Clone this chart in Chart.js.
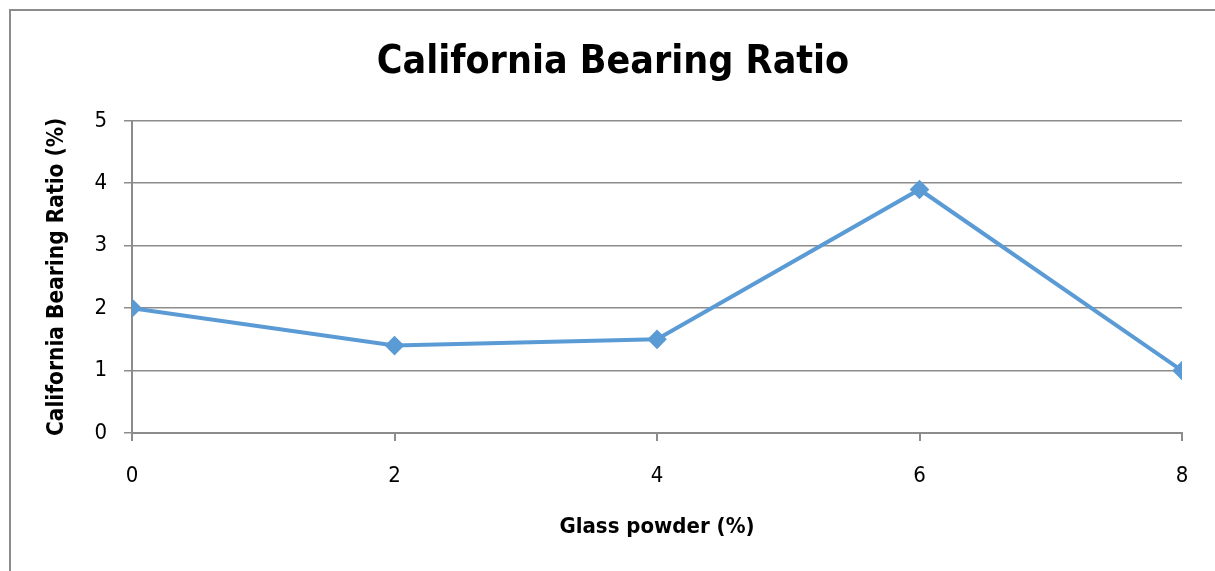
<!DOCTYPE html>
<html>
<head>
<meta charset="utf-8">
<script src="https://cdn.jsdelivr.net/npm/chart.js@4.4.1/dist/chart.umd.min.js"></script>
<style>
  html, body { margin: 0; padding: 0; background: #fff; overflow: hidden; }
  #frame { position: absolute; left: 9px; top: 9px; width: 1400px; height: 800px; border: 2px solid #8c8c8c; }
  #wrap { position: absolute; left: 0; top: 0; width: 1215px; height: 571px; }
</style>
</head>
<body>
<div id="frame"></div>
<div id="wrap"><canvas id="cbr"></canvas></div>
<script>
// Glass powder content (%) vs CBR (%)
const glassPowder = [0, 2, 4, 6, 8];
const cbrValues = [2.0, 1.4, 1.5, 3.9, 1.0];
const yTicks = [0, 1, 2, 3, 4, 5];

const narrow = "'DejaVu Sans Condensed', 'Liberation Sans Narrow', 'Arial Narrow', sans-serif";
const grey = "#8c8c8c";

new Chart(document.getElementById("cbr"), {
  type: "line",
  data: {
    datasets: [{
      label: "CBR",
      data: glassPowder.map((x, i) => ({ x: x, y: cbrValues[i] })),
      borderColor: "#5b9bd5",
      backgroundColor: "#5b9bd5",
      borderWidth: 4,
      pointStyle: "rectRot",
      pointRadius: 7,
      pointHoverRadius: 7,
      tension: 0
    }]
  },
  options: {
    responsive: true,
    maintainAspectRatio: false,
    animation: false,
    layout: { padding: { left: 11, right: 0, top: 0, bottom: 0 } },
    plugins: {
      legend: { display: false },
      tooltip: { enabled: false },
      title: {
        display: true,
        text: "California Bearing Ratio",
        color: "#000",
        font: { family: narrow, size: 39, weight: "bold", lineHeight: 1.2 },
        padding: { top: 39, bottom: 35 }
      }
    },
    scales: {
      x: {
        type: "linear",
        min: 0,
        max: 8,
        afterBuildTicks: axis => { axis.ticks = glassPowder.map(v => ({ value: v })); },
        afterFit: axis => { axis.height = 138; },
        grid: { display: true, drawOnChartArea: false, drawTicks: true, tickLength: 8, color: grey, lineWidth: 2 },
        border: { display: true, color: grey, width: 2 },
        ticks: { color: "#000", padding: 22, font: { family: narrow, size: 22 } },
        title: {
          display: true,
          text: "Glass powder (%)",
          color: "#000",
          font: { family: narrow, size: 22, weight: "bold", lineHeight: 1.2 },
          padding: { top: 0, bottom: 31 }
        }
      },
      y: {
        min: 0,
        max: 5,
        afterBuildTicks: axis => { axis.ticks = yTicks.map(v => ({ value: v })); },
        afterFit: axis => { axis.width = 121; },
        grid: { color: grey, lineWidth: 1.5, tickLength: 8 },
        border: { display: true, color: grey, width: 2 },
        ticks: { color: "#000", padding: 17, font: { family: narrow, size: 22 } },
        title: {
          display: true,
          text: "California Bearing Ratio (%)",
          color: "#000",
          font: { family: narrow, size: 22.5, weight: "bold", lineHeight: 1.2 },
          padding: { top: 33, bottom: 0 }
        }
      },
      // empty right-hand axis, only reserves the space right of the plot
      spacer: {
        type: "linear",
        position: "right",
        display: true,
        afterFit: axis => { axis.width = 33; },
        grid: { display: false },
        border: { display: false },
        ticks: { display: false }
      }
    }
  }
});
</script>
</body>
</html>
